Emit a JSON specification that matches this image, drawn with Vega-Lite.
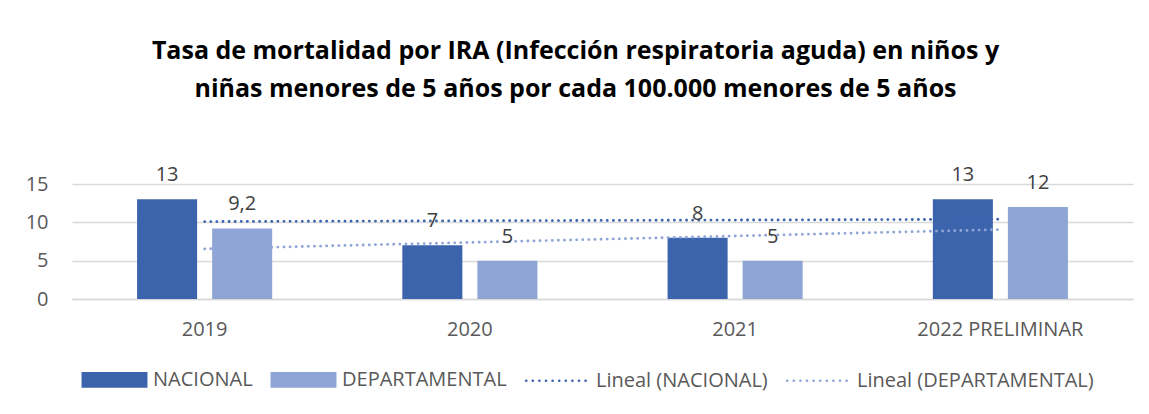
{
  "$schema": "https://vega.github.io/schema/vega-lite/v6.json",
  "width": 1061,
  "height": 115,
  "autosize": {"type": "none"},
  "padding": {"left": 72, "top": 184, "right": 16, "bottom": 115},
  "background": "white",
  "title": {
    "text": ["Tasa de mortalidad por IRA (Infección respiratoria aguda) en niños y", "niñas menores de 5 años por cada 100.000 menores de 5 años"],
    "font": "Open Sans",
    "fontSize": 25,
    "fontWeight": "bold",
    "color": "#000000",
    "lineHeight": 38,
    "anchor": "middle",
    "frame": "group",
    "dx": -27,
    "offset": 63
  },
  "datasets": {
    "main": [
      {"year": "2019", "serie": "NACIONAL", "value": 13},
      {"year": "2019", "serie": "DEPARTAMENTAL", "value": 9.2},
      {"year": "2020", "serie": "NACIONAL", "value": 7},
      {"year": "2020", "serie": "DEPARTAMENTAL", "value": 5},
      {"year": "2021", "serie": "NACIONAL", "value": 8},
      {"year": "2021", "serie": "DEPARTAMENTAL", "value": 5},
      {"year": "2022 PRELIMINAR", "serie": "NACIONAL", "value": 13},
      {"year": "2022 PRELIMINAR", "serie": "DEPARTAMENTAL", "value": 12}
    ],
    "trend": [
      {"year": "2019", "serie": "Lineal (NACIONAL)", "value": 10.1},
      {"year": "2020", "serie": "Lineal (NACIONAL)", "value": 10.2},
      {"year": "2021", "serie": "Lineal (NACIONAL)", "value": 10.3},
      {"year": "2022 PRELIMINAR", "serie": "Lineal (NACIONAL)", "value": 10.4},
      {"year": "2019", "serie": "Lineal (DEPARTAMENTAL)", "value": 6.54},
      {"year": "2020", "serie": "Lineal (DEPARTAMENTAL)", "value": 7.38},
      {"year": "2021", "serie": "Lineal (DEPARTAMENTAL)", "value": 8.22},
      {"year": "2022 PRELIMINAR", "serie": "Lineal (DEPARTAMENTAL)", "value": 9.06}
    ]
  },
  "encoding": {
    "x": {
      "field": "year",
      "type": "nominal",
      "sort": null,
      "scale": {"paddingInner": 0, "paddingOuter": 0},
      "axis": {
        "title": null,
        "labelAngle": 0,
        "labelFont": "Open Sans",
        "labelFontSize": 20,
        "labelColor": "#595959",
        "labelPadding": 20,
        "labelLimit": 0,
        "ticks": false,
        "domainColor": "#d9d9d9",
        "domainWidth": 1.5
      }
    },
    "y": {
      "field": "value",
      "type": "quantitative",
      "scale": {"domain": [0, 15], "nice": false},
      "axis": {
        "title": null,
        "values": [0, 5, 10, 15],
        "labelFont": "Open Sans",
        "labelFontSize": 20,
        "labelColor": "#595959",
        "labelPadding": 24,
        "ticks": false,
        "domain": false,
        "gridColor": "#d9d9d9",
        "gridWidth": 1.5
      }
    }
  },
  "layer": [
    {
      "data": {"name": "main"},
      "mark": {"type": "bar"},
      "encoding": {
        "xOffset": {
          "field": "serie",
          "type": "nominal",
          "sort": ["NACIONAL", "DEPARTAMENTAL"],
          "scale": {"domain": ["NACIONAL", "DEPARTAMENTAL"], "paddingInner": 0.2, "paddingOuter": 0.867}
        },
        "color": {
          "field": "serie",
          "type": "nominal",
          "scale": {
            "domain": ["NACIONAL", "DEPARTAMENTAL", "Lineal (NACIONAL)", "Lineal (DEPARTAMENTAL)"],
            "range": ["#3c64ad", "#8fa5d5", "#3c64ad", "#8fa5d5"]
          },
          "legend": {
            "title": null,
            "orient": "none",
            "legendX": 8,
            "legendY": 161,
            "direction": "horizontal",
            "columns": 4,
            "columnPadding": 13,
            "symbolSize": 4356,
            "symbolStrokeWidth": 2.6,
            "labelFont": "Open Sans",
            "labelFontSize": 20,
            "labelColor": "#595959",
            "labelOffset": 4,
            "labelLimit": 0,
            "encode": {
              "symbols": {
                "update": {
                  "shape": {"signal": "datum.value == 'NACIONAL' || datum.value == 'DEPARTAMENTAL' ? 'M-0.96,-0.2H0.96V0.2H-0.96Z' : 'M-0.95,0H0.95'"},
                  "fill": {"signal": "datum.value == 'NACIONAL' ? '#3c64ad' : datum.value == 'DEPARTAMENTAL' ? '#8fa5d5' : 'transparent'"},
                  "stroke": {"signal": "datum.value == 'NACIONAL' || datum.value == 'Lineal (NACIONAL)' ? '#3c64ad' : '#8fa5d5'"},
                  "strokeWidth": {"value": 2.6},
                  "strokeDash": {"signal": "datum.value == 'NACIONAL' || datum.value == 'DEPARTAMENTAL' ? [] : [0.1, 6.5]"},
                  "strokeCap": {"value": "round"},
                  "opacity": {"value": 1}
                }
              }
            }
          }
        }
      }
    },
    {
      "data": {"name": "trend"},
      "mark": {"type": "line", "strokeWidth": 2.8, "strokeDash": [0.1, 6], "strokeCap": "round"},
      "encoding": {
        "color": {"field": "serie", "type": "nominal"}
      }
    },
    {
      "data": {"name": "main"},
      "mark": {"type": "text", "baseline": "bottom", "dy": -14, "font": "Open Sans", "fontSize": 20, "color": "#404040"},
      "encoding": {
        "xOffset": {"field": "serie", "type": "nominal", "sort": ["NACIONAL", "DEPARTAMENTAL"]},
        "text": {"field": "value", "type": "quantitative", "format": "~g"}
      }
    }
  ],
  "config": {
    "view": {"stroke": null},
    "locale": {"number": {"decimal": ",", "thousands": ".", "grouping": [3], "currency": ["", ""]}}
  }
}
